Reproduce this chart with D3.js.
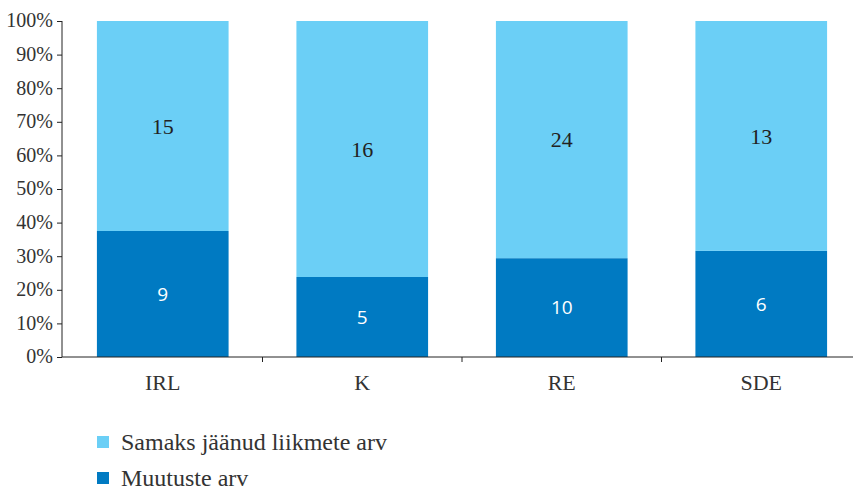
<!DOCTYPE html>
<html>
<head>
<meta charset="utf-8">
<script src="https://cdn.jsdelivr.net/npm/d3@7"></script>
</head>
<body style="margin:0">
<script>
// categories and series
var categories = ['IRL', 'K', 'RE', 'SDE'];
var changed = [9, 5, 10, 6];        // Muutuste arv
var unchanged = [15, 16, 24, 13];   // Samaks jäänud liikmete arv
var yTicks = [0, 0.1, 0.2, 0.3, 0.4, 0.5, 0.6, 0.7, 0.8, 0.9, 1];
var legendLabels = ['Samaks jäänud liikmete arv', 'Muutuste arv'];

var WIDTH = 853;
var HEIGHT = 493;
var DARK = '#007ac2';
var LIGHT = '#6bcff6';
var SERIF = 'font-family: "Liberation Serif", serif';

var svg = d3.select('body')
.append('svg')
.attr('width', WIDTH)
.attr('height', HEIGHT);

var x = d3.scaleBand()
.domain(categories)
.range([63, 861])
.paddingInner(0.34)
.paddingOuter(0.17);

var y = d3.scaleLinear()
.domain([0, 1])
.range([357, 21]);

var rows = categories.map(function(c, i){
  var total = changed[i] + unchanged[i];
  return {cat: c, a: changed[i], b: unchanged[i], pa: changed[i] / total};
});

// dark part (bottom)
svg.selectAll('rect.dark')
.data(rows)
.enter()
.append('rect')
.attr('class', 'dark')
.attr('x', function(d){return x(d.cat);})
.attr('width', x.bandwidth())
.attr('y', function(d){return y(d.pa);})
.attr('height', function(d){return y(0) - y(d.pa);})
.attr('fill', DARK);

// light part (top)
svg.selectAll('rect.light')
.data(rows)
.enter()
.append('rect')
.attr('class', 'light')
.attr('x', function(d){return x(d.cat);})
.attr('width', x.bandwidth())
.attr('y', y(1))
.attr('height', function(d){return y(d.pa) - y(1);})
.attr('fill', LIGHT);

// value labels
svg.selectAll('text.vdark')
.data(rows)
.enter()
.append('text')
.attr('class', 'vdark')
.attr('x', function(d){return x(d.cat) + x.bandwidth() / 2;})
.attr('y', function(d){return y(d.pa / 2);})
.attr('dy', '0.35em')
.attr('text-anchor', 'middle')
.attr('font-family', 'Open Sans')
.attr('font-size', 19)
.attr('fill', '#fff')
.text(function(d){return d.a;});

svg.selectAll('text.vlight')
.data(rows)
.enter()
.append('text')
.attr('class', 'vlight')
.attr('x', function(d){return x(d.cat) + x.bandwidth() / 2;})
.attr('y', function(d){return y((1 + d.pa) / 2);})
.attr('dy', '0.35em')
.attr('text-anchor', 'middle')
.attr('style', SERIF)
.attr('font-size', 22)
.attr('fill', '#222')
.text(function(d){return d.b;});

// y axis (line + ticks from d3.axisLeft, labels as plain texts)
var yAxis = svg.append('g')
.attr('transform', 'translate(62,0)')
.call(d3.axisLeft(y).tickValues(yTicks).tickFormat('').tickSize(5));
yAxis.select('.domain').attr('stroke', '#222').attr('d', 'M0,' + y(1) + 'V' + y(0));
yAxis.selectAll('.tick line').attr('stroke', '#222');
yAxis.selectAll('.tick text').remove();
svg.selectAll('text.ylab')
.data(yTicks)
.enter()
.append('text')
.attr('class', 'ylab')
.attr('x', 53)
.attr('y', function(d){return y(d);})
.attr('dy', '0.32em')
.attr('text-anchor', 'end')
.attr('style', SERIF)
.attr('font-size', 20)
.attr('fill', '#333')
.text(d3.format('.0%'));

// x axis
svg.append('line')
.attr('x1', 62).attr('x2', 853)
.attr('y1', y(0)).attr('y2', y(0))
.attr('stroke', '#222');
var step = x.step();
svg.selectAll('line.sep')
.data(categories.slice(1))
.enter()
.append('line')
.attr('class', 'sep')
.attr('x1', function(d){return x(d) - (step - x.bandwidth()) / 2;})
.attr('x2', function(d){return x(d) - (step - x.bandwidth()) / 2;})
.attr('y1', y(0)).attr('y2', y(0) + 5)
.attr('stroke', '#222');
svg.selectAll('text.xlab')
.data(categories)
.enter()
.append('text')
.attr('class', 'xlab')
.attr('x', function(d){return x(d) + x.bandwidth() / 2;})
.attr('y', y(0) + 33)
.attr('text-anchor', 'middle')
.attr('style', SERIF)
.attr('font-size', 22)
.attr('fill', '#333')
.text(function(d){return d;});

// legend
svg.selectAll('rect.leg')
.data(legendLabels)
.enter()
.append('rect')
.attr('class', 'leg')
.attr('x', 97)
.attr('y', function(d, i){return 436 + i * 36;})
.attr('width', 12).attr('height', 12)
.attr('fill', function(d, i){return i === 0 ? LIGHT : DARK;});
svg.selectAll('text.leg')
.data(legendLabels)
.enter()
.append('text')
.attr('class', 'leg')
.attr('x', 121)
.attr('y', function(d, i){return 442 + i * 36;})
.attr('dy', '0.35em')
.attr('style', SERIF)
.attr('font-size', 24)
.attr('fill', '#333')
.text(function(d){return d;});
</script>
</body>
</html>
